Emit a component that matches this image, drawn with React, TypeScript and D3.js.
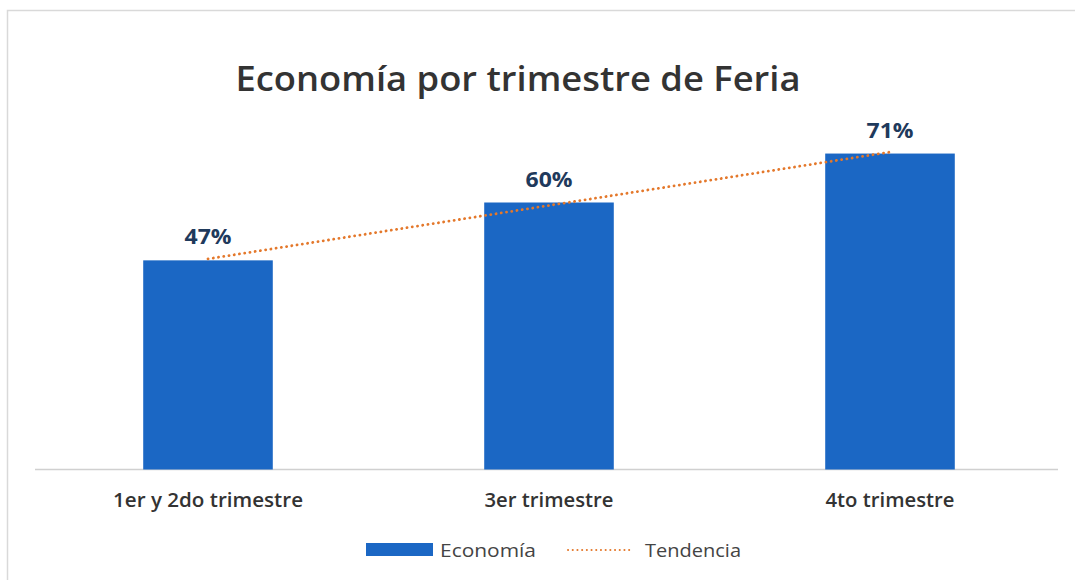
import React from "react";
import * as d3 from "d3";

const categories = ["1er y 2do trimestre", "3er trimestre", "4to trimestre"];
const values = [47, 60, 71];
const valueLabels = ["47%", "60%", "71%"];
const title = "Economía por trimestre de Feria";
const legendLabels = ["Economía", "Tendencia"];

const W = 1075;
const H = 580;
const FONT = "'Open Sans', 'Noto Sans', sans-serif";

export default function App() {
  const x = d3.scaleBand<string>().domain(categories).range([37.5, 1060.5]).paddingInner(0.62).paddingOuter(0.31);
  const y = d3.scaleLinear().domain([0, 80]).range([469.5, 113.5]);

  // linear regression trend
  const xs = values.map((_, i) => i + 1);
  const mx = d3.mean(xs) as number;
  const my = d3.mean(values) as number;
  const slope =
    d3.sum(xs.map((xi, i) => (xi - mx) * (values[i] - my))) /
    d3.sum(xs.map((xi) => (xi - mx) * (xi - mx)));
  const intercept = my - slope * mx;
  const trendPts: [number, number][] = categories.map((c, i) => [
    (x(c) as number) + x.bandwidth() / 2,
    y(intercept + slope * (i + 1)),
  ]);
  const line = d3.line();

  const bar = "#1b67c4";
  const orange = "#e4782b";

  return (
    <div style={{ position: "absolute", left: 0, top: 0 }}>
      <svg width={W} height={H} style={{ display: "block", background: "#fff" }}>
        <rect x={7.5} y={10.5} width={1080} height={600} fill="#fff" stroke="#d9d9d9" strokeWidth={1.5} />
        <text x={518} y={91} textAnchor="middle" fontFamily={FONT} fontWeight={600} fontSize={35} fill="#333" textLength={565} lengthAdjust="spacingAndGlyphs">
          {title}
        </text>
        <line x1={35} x2={1058} y1={469.5} y2={469.5} stroke="#d0d0d0" strokeWidth={1.5} />
        {categories.map((c, i) => (
          <rect key={c} x={x(c)} y={y(values[i])} width={x.bandwidth()} height={y(0) - y(values[i])} fill={bar} />
        ))}
        <path d={line(trendPts) || ""} fill="none" stroke={orange} strokeWidth={2.8} strokeDasharray="0.1 5.2" strokeLinecap="round" />
        {categories.map((c, i) => (
          <text key={c + "v"} x={(x(c) as number) + x.bandwidth() / 2} y={y(values[i]) - 16} textAnchor="middle" fontFamily={FONT} fontWeight={700} fontSize={22} fill="#1f3a5c"
            textLength={47} lengthAdjust="spacingAndGlyphs">
            {valueLabels[i]}
          </text>
        ))}
        {categories.map((c, i) => (
          <text key={c + "l"} x={(x(c) as number) + x.bandwidth() / 2} y={507} textAnchor="middle" fontFamily={FONT} fontWeight={600} fontSize={19} fill="#333"
            textLength={i === 0 ? 190 : 129} lengthAdjust="spacingAndGlyphs">
            {c}
          </text>
        ))}
        <rect x={366} y={543} width={67} height={13} fill={bar} />
        <text x={440} y={557} fontFamily={FONT} fontSize={19} fill="#444" textLength={96} lengthAdjust="spacingAndGlyphs">
          {legendLabels[0]}
        </text>
        <line x1={568} x2={632} y1={550} y2={550} stroke={orange} strokeWidth={2} strokeDasharray="0.1 4.6" strokeLinecap="round" />
        <text x={645} y={557} fontFamily={FONT} fontSize={19} fill="#444" textLength={96} lengthAdjust="spacingAndGlyphs">
          {legendLabels[1]}
        </text>
      </svg>
    </div>
  );
}
